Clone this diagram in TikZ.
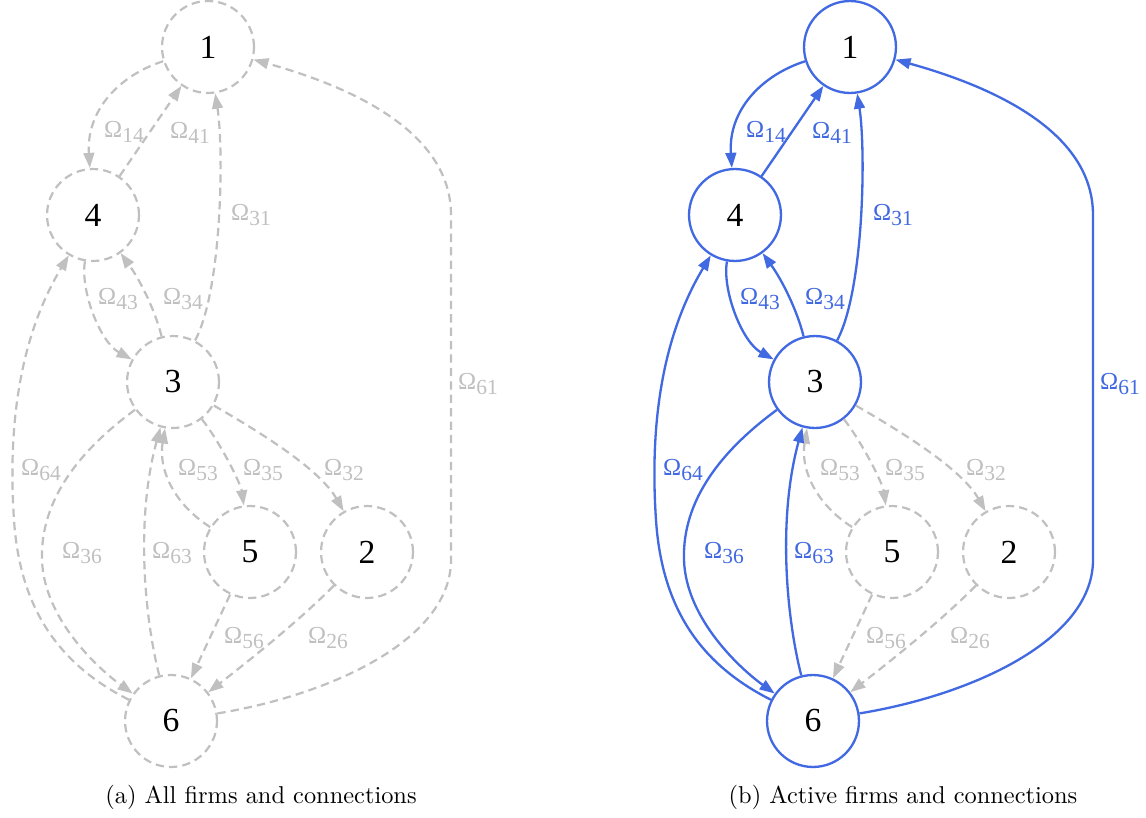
\documentclass[tikz,border=0pt]{standalone}
\usepackage{fontspec}
\usetikzlibrary{arrows.meta}
\newfontfamily\tms{Liberation Serif}
\definecolor{edgegray}{RGB}{192,192,192}
\definecolor{edgeblue}{RGB}{65,105,225}
\newcommand{\lab}[1]{{\fontsize{10}{11}\selectfont\tms Ω\raisebox{-2.2pt}{\fontsize{8.8}{10}\selectfont #1}}}
\tikzset{
  fnode/.style={circle, minimum size=37.7pt, inner sep=0pt, font=\tms\fontsize{13.8}{15}\selectfont},
  actnode/.style={fnode, draw=edgeblue, line width=0.95pt},
  offnode/.style={fnode, draw=edgegray, line width=0.9pt, dash pattern=on 3.4pt off 2.1pt},
  actedge/.style={draw=edgeblue, line width=0.95pt, -{Triangle[length=6.2pt,width=4.4pt]}},
  offedge/.style={draw=edgegray, line width=0.9pt, dash pattern=on 3.4pt off 2.1pt, -{Triangle[length=6.2pt,width=4.4pt]}},
  actlab/.style={text=edgeblue, inner sep=0pt},
  offlab/.style={text=edgegray, inner sep=0pt},
  captext/.style={anchor=base, inner sep=0pt, font=\fontsize{10}{12}\selectfont}
}
\begin{document}
\begin{tikzpicture}[x=0.41pt, y=-0.41pt]
\fill[white] (0,0) rectangle (1146,818);
\useasboundingbox (0,0) rectangle (1146,818);

% ---------------- panel (a) ----------------
\node[offnode] (a1) at (208,47) {1};
\node[offnode] (a4) at (93,215) {4};
\node[offnode] (a3) at (173,382) {3};
\node[offnode] (a5) at (250,552) {5};
\node[offnode] (a2) at (367,552) {2};
\node[offnode] (a6) at (171,721) {6};

\draw[offedge] (a1) .. controls (120,75) and (86,110) .. (a4);
\draw[offedge] (a4) -- (a1);
\draw[offedge] (a3) .. controls (222,290) and (224,150) .. (a1);
\draw[offedge] (a4) .. controls (80,290) and (100,342) .. (a3);
\draw[offedge] (a3) .. controls (155,310) and (140,280) .. (a4);
\draw[offedge] (a6) .. controls (60,665) and (20,610) .. (14,520) .. controls (8,430) and (18,340) .. (a4);
\draw[offedge] (a3) .. controls (80,450) and (40,500) .. (42,560) .. controls (44,620) and (100,670) .. (a6);
\draw[offedge] (a6) .. controls (145,620) and (135,520) .. (a3);
\draw[offedge] (a5) .. controls (175,505) and (158,470) .. (a3);
\draw[offedge] (a3) .. controls (222,445) and (241,485) .. (a5);
\draw[offedge] (a3) .. controls (265,435) and (320,470) .. (a2);
\draw[offedge] (a5) -- (a6);
\draw[offedge] (a2) .. controls (300,620) and (250,660) .. (a6);
\draw[offedge] (a6) .. controls (330,695) and (451,640) .. (451,560) -- (451,215) .. controls (451,140) and (370,92) .. (a1);

\node[offlab] (la14) at (124,132) {\lab{14}};
\node[offlab] (la41) at (190,133) {\lab{41}};
\node[offlab] (la31) at (251,215) {\lab{31}};
\node[offlab] (la43) at (118,299) {\lab{43}};
\node[offlab] (la34) at (183,299) {\lab{34}};
\node[offlab] (la61) at (478,384) {\lab{61}};
\node[offlab] (la64) at (41,470) {\lab{64}};
\node[offlab] (la53) at (198,470) {\lab{53}};
\node[offlab] (la35) at (263,470) {\lab{35}};
\node[offlab] (la32) at (344,470) {\lab{32}};
\node[offlab] (la36) at (82,553) {\lab{36}};
\node[offlab] (la63) at (172,553) {\lab{63}};
\node[offlab] (la56) at (244,638) {\lab{56}};
\node[offlab] (la26) at (328,638) {\lab{26}};

\node[captext] (capa) at (261,803) {(a) All firms and connections};

% ---------------- panel (b) ----------------
\begin{scope}[xshift=263.22pt]
\node[actnode] (b1) at (208,47) {1};
\node[actnode] (b4) at (93,215) {4};
\node[actnode] (b3) at (173,382) {3};
\node[offnode] (b5) at (250,552) {5};
\node[offnode] (b2) at (367,552) {2};
\node[actnode] (b6) at (171,721) {6};

\draw[offedge] (b5) .. controls (175,505) and (158,470) .. (b3);
\draw[offedge] (b3) .. controls (222,445) and (241,485) .. (b5);
\draw[offedge] (b3) .. controls (265,435) and (320,470) .. (b2);
\draw[offedge] (b5) -- (b6);
\draw[offedge] (b2) .. controls (300,620) and (250,660) .. (b6);

\draw[actedge] (b1) .. controls (120,75) and (86,110) .. (b4);
\draw[actedge] (b4) -- (b1);
\draw[actedge] (b3) .. controls (222,290) and (224,150) .. (b1);
\draw[actedge] (b4) .. controls (80,290) and (100,342) .. (b3);
\draw[actedge] (b3) .. controls (155,310) and (140,280) .. (b4);
\draw[actedge] (b6) .. controls (60,665) and (20,610) .. (14,520) .. controls (8,430) and (18,340) .. (b4);
\draw[actedge] (b3) .. controls (80,450) and (40,500) .. (42,560) .. controls (44,620) and (100,670) .. (b6);
\draw[actedge] (b6) .. controls (145,620) and (135,520) .. (b3);
\draw[actedge] (b6) .. controls (330,695) and (451,640) .. (451,560) -- (451,215) .. controls (451,140) and (370,92) .. (b1);

\node[actlab] (lb14) at (124,132) {\lab{14}};
\node[actlab] (lb41) at (190,133) {\lab{41}};
\node[actlab] (lb31) at (251,215) {\lab{31}};
\node[actlab] (lb43) at (118,299) {\lab{43}};
\node[actlab] (lb34) at (183,299) {\lab{34}};
\node[actlab] (lb61) at (478,384) {\lab{61}};
\node[actlab] (lb64) at (41,470) {\lab{64}};
\node[offlab] (lb53) at (198,470) {\lab{53}};
\node[offlab] (lb35) at (263,470) {\lab{35}};
\node[offlab] (lb32) at (344,470) {\lab{32}};
\node[actlab] (lb36) at (82,553) {\lab{36}};
\node[actlab] (lb63) at (172,553) {\lab{63}};
\node[offlab] (lb56) at (244,638) {\lab{56}};
\node[offlab] (lb26) at (328,638) {\lab{26}};

\node[captext] (capb) at (261,803) {(b) Active firms and connections};
\end{scope}
\end{tikzpicture}
\end{document}
